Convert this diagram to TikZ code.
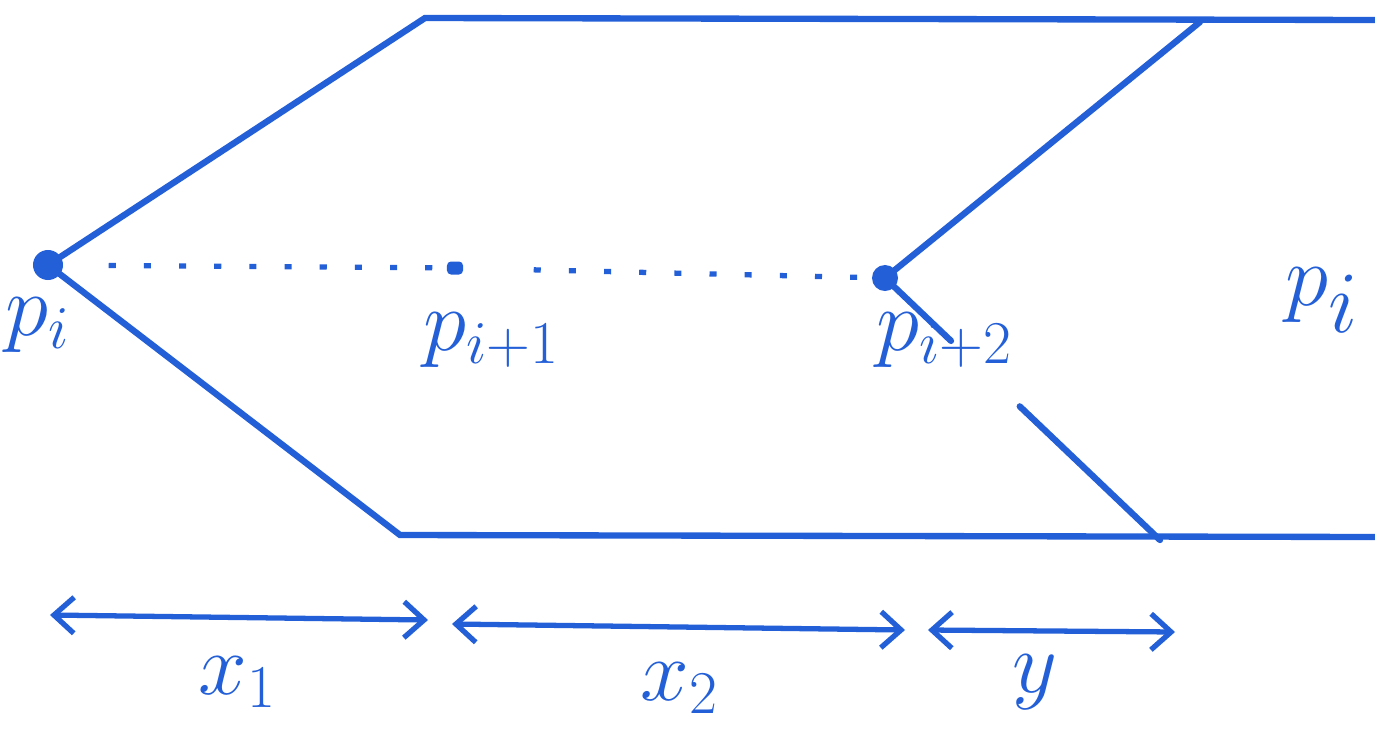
\documentclass[tikz,border=0pt]{standalone}
\usepackage{amsmath}
\usepackage{tikz}
\usetikzlibrary{calc,positioning,arrows.meta}
\definecolor{inkblue}{RGB}{35,95,215}

\begin{document}
\begin{tikzpicture}[
			x=0.01cm, y=-0.01cm,
			edge/.style={draw=inkblue, line width=1.8pt, line cap=round},
			dots/.style={draw=inkblue, line width=1.5pt, dash pattern=on 2pt off 8pt},
			vertex/.style={circle, fill=inkblue, inner sep=0pt, minimum size=3mm},
			midpt/.style={rectangle, rounded corners=0.4mm, fill=inkblue, inner sep=0pt, minimum width=1.6mm, minimum height=1.3mm},
			dimarrow/.style={draw=inkblue, line width=1.5pt,
				{Straight Barb[length=2mm,width=3.6mm]}-{Straight Barb[length=2mm,width=3.6mm]}},
			lbl/.style={text=inkblue, font=\fontsize{24}{26}\selectfont},
			biglbl/.style={text=inkblue, font=\fontsize{36}{38}\selectfont}
			]
			\useasboundingbox (0,0) rectangle (1375,742);
			
			% points on the path
			\node[vertex] (P0) at (48,265) {};
			\node[midpt] (P1) at (455,268) {};
			\node[vertex, minimum size=2.6mm] (P2) at (885,278) {};
			
			% corners of the outline
			\coordinate (TL) at (425,18);
			\coordinate (TR) at (1375,20);
			\coordinate (BL) at (400,535);
			\coordinate (BR) at (1375,537);
			\coordinate (T2) at (1200,22);
			\coordinate (B2) at (1160,540);
			
			\draw[edge] (P0.center) -- (TL) -- (TR);
			\draw[edge] (P0.center) -- (BL) -- (BR);
			\draw[edge] (P2.center) -- (T2);
			\draw[edge] (P2.center) -- ($(P2)!0.24!(B2)$);
			\draw[edge] ($(P2)!0.49!(B2)$) -- (B2);
			
			\draw[dots, shorten <=0.45cm, shorten >=0.5mm] (P0) -- (P1);
			\draw[dots, shorten <=0.7cm, shorten >=0.4mm] (P1) -- (P2);
			
			\node[lbl] (L0) at (38,325) {$p_i$};
			\node[lbl] (L1) at (492,340) {$p_{i+1}$};
			\node[lbl] (L2) at (945,340) {$p_{i+2}$};
			\node[biglbl] (L3) at (1322,300) {$p_i$};
			
			% distances
			\coordinate (A0) at (50,615);
			\coordinate (A1) at (428,620);
			\coordinate (A2) at (452,624);
			\coordinate (A3) at (905,630);
			\coordinate (A4) at (928,630);
			\coordinate (A5) at (1175,632);
			
			\draw[dimarrow] (A0) -- (A1);
			\draw[dimarrow] (A2) -- (A3);
			\draw[dimarrow] (A4) -- (A5);
			
			\node[lbl] (X1) at (238,682) {$x_1$};
			\node[lbl] (X2) at (680,688) {$x_2$};
			\node[lbl] (Y) at (1035,682) {$y$};
			
		\end{tikzpicture}
\end{document}
